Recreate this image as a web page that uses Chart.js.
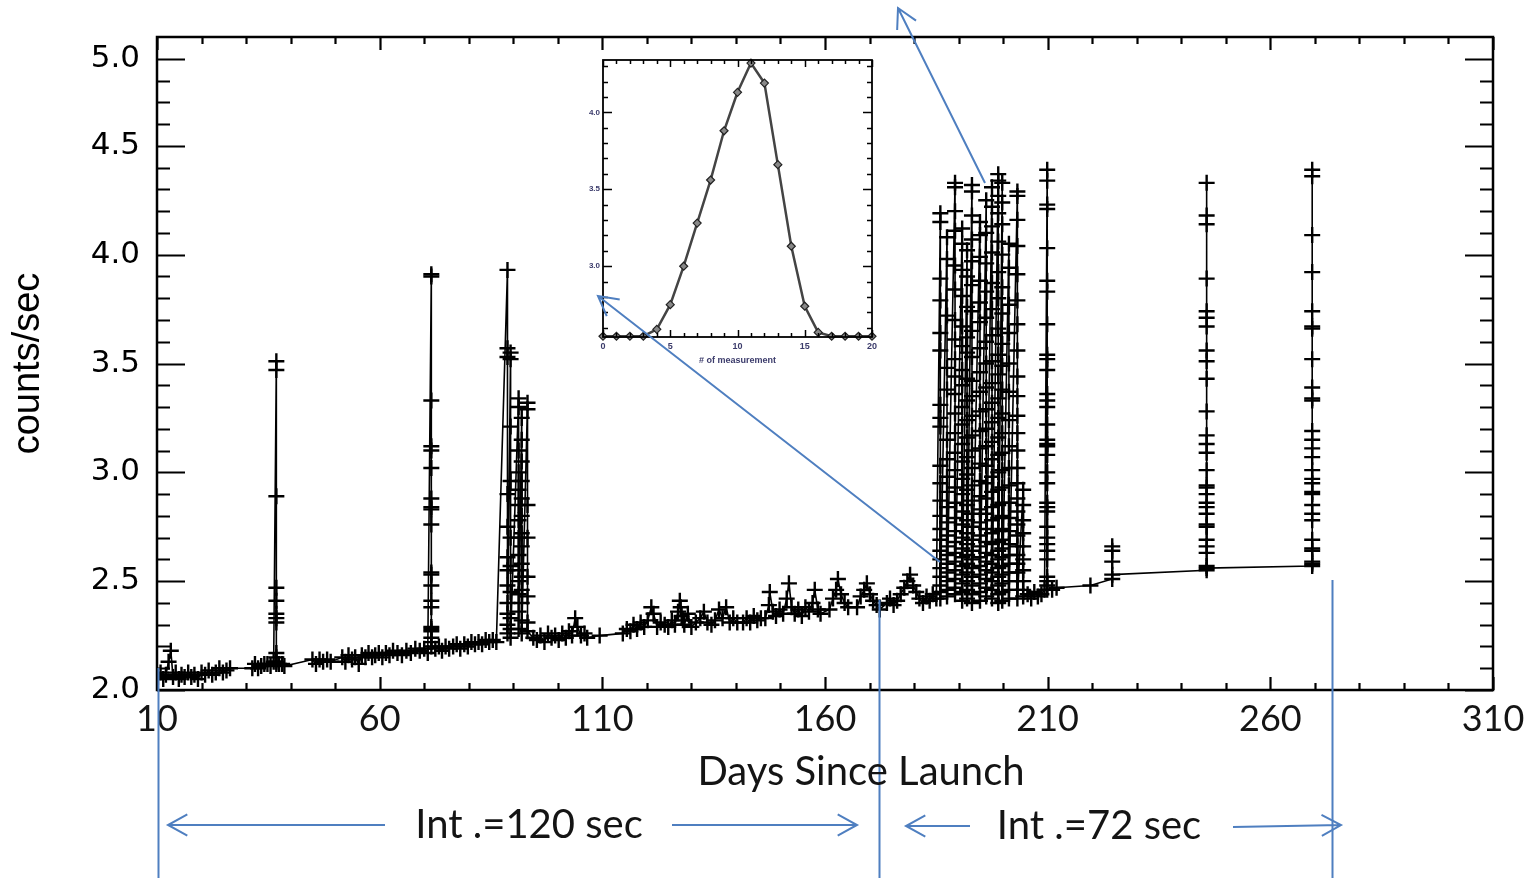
<!DOCTYPE html>
<html>
<head>
<meta charset="utf-8">
<script src="https://cdn.jsdelivr.net/npm/chart.js@4.4.1/dist/chart.umd.min.js"></script>
<style>
  html, body { margin: 0; padding: 0; background: #fff; }
  #wrap { position: relative; width: 1540px; height: 878px; overflow: hidden; }
  #main { position: absolute; left: 0; top: 0; width: 1540px; height: 878px; }
  #inset { position: absolute; left: 575px; top: 50px; width: 310px; height: 330px; }
  #notes { position: absolute; left: 0; top: 0; width: 1540px; height: 878px; pointer-events: none; }
</style>
</head>
<body>
<div id="wrap">
  <canvas id="main" width="1540" height="878"></canvas>
  <canvas id="inset" width="310" height="330"></canvas>
  <canvas id="notes" width="1540" height="878"></canvas>
</div>
<script>
// ---- main panel: background count rate vs day ----
const xTickValues = [10, 60, 110, 160, 210, 260, 310];
// the reference puts its "5.0" label one minor step below the frame top
const yTickPositions = [2.0, 2.5, 3.0, 3.5, 4.0, 4.5, 4.9];
const yTickLabels = ['2.0', '2.5', '3.0', '3.5', '4.0', '4.5', '5.0'];

// quiet-time measurements along the slow trend
const baseDays = [
  10.2, 10.8, 11.4, 12.0, 12.6, 13.1, 13.6, 14.2, 14.9, 15.5, 16.2, 17.0, 17.7, 18.4, 19.2, 20.0,
  20.8, 21.6, 22.4, 23.2, 24.0, 24.8, 25.6, 26.4,
  31.4, 32.0, 32.7, 33.4, 34.1, 34.8, 35.5, 36.2, 37.4, 38.1, 38.6,
  44.9, 45.7, 46.5, 47.3, 48.2, 49.0,
  51.6, 52.3, 53.0, 53.8, 54.5, 55.3, 56.0, 56.8, 57.5, 58.3, 59.0, 59.8, 60.6, 61.4, 62.2, 63.0,
  64.0, 65.0, 66.0, 67.0, 68.0, 69.0, 70.0, 70.8, 72.5, 73.3, 74.0, 74.8, 75.6, 76.5, 77.3, 78.1,
  79.0, 79.8, 80.6, 81.4, 82.2, 83.0, 83.8, 84.6, 85.4, 86.2,
  94.5, 95.3, 96.1, 97.0, 97.8, 98.6, 99.4, 100.2, 101.0, 101.8, 102.5, 103.2, 103.9, 104.4, 105.2,
  106.0, 106.6, 109.4,
  114.6, 115.5, 116.3, 117.0, 117.8, 118.6, 119.4, 120.2, 121.0, 121.5, 122.3, 123.1, 124.0, 124.8,
  125.6, 126.3, 127.0, 127.4, 127.6, 127.8, 128.1, 128.4, 129.2, 130.0, 131.0, 132.0, 132.8, 133.6,
  134.5, 135.3, 136.2, 137.0, 137.8, 138.6, 139.4, 140.3,
  141.6, 142.4, 143.2, 144.0, 144.8, 145.6, 146.6, 147.4, 147.6, 148.3, 149.0, 149.8, 150.6, 151.4,
  151.9, 152.5, 153.2, 154.0, 154.8, 155.6, 156.4, 157.2, 157.7, 158.4, 159.0,
  161.0, 161.8, 162.5, 162.9, 163.6, 164.4, 165.2,
  167.2, 168.0, 168.8, 169.4, 170.1, 170.8, 171.6, 172.3,
  173.9, 174.6, 175.4, 176.2, 177.0, 177.8, 178.5, 179.1, 179.8, 180.5, 181.2, 182.0, 182.8, 183.5,
  184.2, 185.0,
  205.5, 206.3, 207.0, 207.8, 208.6, 209.3, 211.0, 212.0, 219.6
];
const baseCounts = [
  2.06, 2.08, 2.05, 2.07, 2.13, 2.18, 2.06, 2.08, 2.05, 2.07, 2.06, 2.08, 2.06, 2.07, 2.05, 2.08,
  2.07, 2.09, 2.07, 2.08, 2.10, 2.08, 2.09, 2.10,
  2.10, 2.12, 2.10, 2.11, 2.12, 2.12, 2.11, 2.13, 2.12, 2.12, 2.11,
  2.14, 2.12, 2.14, 2.13, 2.14, 2.13,
  2.15, 2.13, 2.16, 2.14, 2.15, 2.12, 2.16, 2.15, 2.17, 2.15, 2.16, 2.17, 2.15, 2.17, 2.16, 2.18,
  2.17, 2.16, 2.18, 2.17, 2.19, 2.18, 2.19, 2.17, 2.19, 2.20, 2.18, 2.20, 2.19, 2.20, 2.21, 2.19,
  2.21, 2.20, 2.22, 2.21, 2.22, 2.21, 2.23, 2.22, 2.23, 2.22,
  2.24, 2.23, 2.25, 2.22, 2.26, 2.24, 2.25, 2.23, 2.26, 2.24, 2.27, 2.25, 2.33, 2.29, 2.25,
  2.26, 2.24, 2.25,
  2.26, 2.28, 2.27, 2.30, 2.28, 2.31, 2.29, 2.32, 2.38, 2.35, 2.29, 2.31, 2.30, 2.29,
  2.32, 2.30, 2.36, 2.41, 2.38, 2.34, 2.32, 2.30, 2.35, 2.29, 2.31, 2.33, 2.36, 2.31,
  2.30, 2.32, 2.37, 2.33, 2.38, 2.31, 2.33, 2.31,
  2.31, 2.33, 2.31, 2.34, 2.32, 2.33, 2.33, 2.39, 2.45, 2.36, 2.34, 2.37, 2.35, 2.42,
  2.49, 2.38, 2.35, 2.37, 2.34, 2.38, 2.36, 2.40, 2.46, 2.37, 2.35,
  2.37, 2.42, 2.46, 2.51, 2.44, 2.40, 2.38,
  2.38, 2.43, 2.46, 2.49, 2.44, 2.41, 2.39, 2.37,
  2.40, 2.42, 2.39, 2.41, 2.44, 2.47, 2.50, 2.53, 2.48, 2.45, 2.42, 2.40, 2.43, 2.41,
  2.44, 2.42,
  2.44, 2.42, 2.45, 2.43, 2.44, 2.46, 2.46, 2.47, 2.48
];

// isolated days with many repeated measurements (listed in the order they were taken)
const spikeDays = [36.8, 71.6, 88.7, 89.4, 91.2, 91.9, 93.2, 209.9, 224.5, 245.7, 269.4];
const spikeCounts = [
  [3.51, 3.47, 2.89, 2.47, 2.41, 2.35, 2.33, 2.31, 2.17, 2.15, 2.13, 2.12],
  [3.91, 3.90, 3.33, 3.12, 3.10, 3.02, 2.88, 2.84, 2.83, 2.76, 2.54, 2.53, 2.48, 2.41, 2.38, 2.29, 2.28, 2.27, 2.24, 2.22, 2.20],
  [3.93, 3.57, 3.53, 2.90, 2.75, 2.61, 2.55, 2.48, 2.40, 2.35, 2.30, 2.26],
  [3.55, 3.52, 3.21, 2.96, 2.70, 2.57, 2.45, 2.33, 2.28, 2.24],
  [3.34, 3.30, 3.10, 3.00, 2.92, 2.85, 2.78, 2.70, 2.62, 2.55, 2.50, 2.44, 2.36, 2.28],
  [3.25, 3.15, 3.05, 2.96, 2.88, 2.80, 2.72, 2.66, 2.58, 2.52, 2.46, 2.40, 2.32, 2.26],
  [3.32, 3.29, 2.85, 2.70, 2.52, 2.43, 2.31, 2.27],
  [4.39, 4.34, 4.23, 4.21, 4.03, 3.88, 3.83, 3.68, 3.54, 3.52, 3.47, 3.36, 3.33, 3.30, 3.22, 3.15, 3.13,
   3.12, 3.08, 3.00, 2.95, 2.86, 2.84, 2.82, 2.75, 2.70, 2.67, 2.64, 2.60, 2.52, 2.50, 2.48, 2.46],
  [2.51, 2.59, 2.66, 2.64, 2.53],
  [2.55, 2.57, 2.66, 2.75, 2.81, 2.86, 2.93, 3.01, 3.13, 3.28, 3.51, 3.67, 3.74, 4.14, 4.33,
   4.18, 3.89, 3.71, 3.56, 3.43, 3.17, 3.09, 2.94, 2.90, 2.84, 2.76, 2.69, 2.63, 2.56],
  [2.57, 2.59, 2.65, 2.78, 2.85, 2.91, 2.97, 3.07, 3.15, 3.33, 3.39, 3.66, 3.74, 4.09, 4.39,
   4.36, 3.92, 3.67, 3.52, 3.34, 3.19, 3.11, 3.01, 2.95, 2.90, 2.81, 2.69, 2.64, 2.58]
];

// the dense burst of days 186-205
const burstDays = [185.9, 187.4, 189.2, 190.8, 191.9, 193.0, 194.8, 196.2, 197.5, 198.9, 199.8, 201.3, 203.2, 204.5];
const burstCounts = [
  [4.19, 4.15, 3.89, 3.79, 3.64, 3.56, 3.31, 3.25, 3.21, 3.03, 2.95, 2.87, 2.80, 2.74, 2.69, 2.64, 2.60, 2.56, 2.52, 2.48, 2.45, 2.42],
  [4.08, 3.98, 3.72, 3.48, 3.38, 3.15, 3.06, 2.98, 2.91, 2.84, 2.77, 2.71, 2.66, 2.62, 2.58, 2.54, 2.50, 2.46, 2.43],
  [4.33, 4.31, 4.20, 4.11, 3.95, 3.84, 3.70, 3.61, 3.52, 3.44, 3.36, 3.27, 3.18, 3.09, 3.01, 2.93, 2.86, 2.79, 2.73, 2.68, 2.63, 2.59, 2.55, 2.51, 2.47, 2.44],
  [4.12, 4.05, 3.93, 3.81, 3.67, 3.58, 3.47, 3.40, 3.30, 3.22, 3.13, 3.05, 2.97, 2.90, 2.82, 2.76, 2.70, 2.65, 2.61, 2.57, 2.53, 2.49, 2.45, 2.41],
  [4.02, 3.90, 3.76, 3.62, 3.55, 3.43, 3.33, 3.24, 3.16, 3.07, 2.99, 2.92, 2.85, 2.78, 2.72, 2.67, 2.62, 2.58, 2.54, 2.50, 2.46, 2.42],
  [4.32, 4.29, 4.18, 4.07, 3.97, 3.86, 3.74, 3.65, 3.53, 3.42, 3.35, 3.26, 3.17, 3.10, 3.02, 2.94, 2.87, 2.81, 2.75, 2.69, 2.64, 2.60, 2.56, 2.52, 2.48, 2.44, 2.40],
  [4.15, 4.09, 3.99, 3.88, 3.78, 3.69, 3.57, 3.46, 3.37, 3.28, 3.19, 3.11, 3.04, 2.96, 2.89, 2.83, 2.77, 2.71, 2.66, 2.61, 2.57, 2.53, 2.49, 2.45, 2.41],
  [4.25, 4.10, 3.96, 3.83, 3.71, 3.60, 3.50, 3.39, 3.29, 3.20, 3.12, 3.03, 2.95, 2.88, 2.81, 2.74, 2.68, 2.63, 2.59, 2.55, 2.51, 2.47, 2.43],
  [4.31, 4.22, 4.13, 4.01, 3.87, 3.75, 3.63, 3.51, 3.41, 3.32, 3.23, 3.14, 3.06, 2.98, 2.91, 2.84, 2.78, 2.72, 2.67, 2.62, 2.58, 2.54, 2.50, 2.46, 2.42],
  [4.37, 4.34, 4.27, 4.19, 4.06, 3.92, 3.80, 3.66, 3.54, 3.45, 3.34, 3.25, 3.16, 3.08, 3.00, 2.92, 2.85, 2.79, 2.73, 2.68, 2.64, 2.60, 2.56, 2.52, 2.48, 2.44, 2.40],
  [4.33, 4.24, 4.14, 4.00, 3.85, 3.73, 3.59, 3.49, 3.38, 3.27, 3.18, 3.09, 3.01, 2.93, 2.86, 2.80, 2.74, 2.69, 2.65, 2.61, 2.57, 2.53, 2.49, 2.45, 2.41],
  [4.05, 3.94, 3.77, 3.64, 3.50, 3.37, 3.24, 3.12, 3.02, 2.94, 2.86, 2.79, 2.73, 2.67, 2.62, 2.58, 2.54, 2.50, 2.46, 2.42],
  [4.29, 4.27, 4.16, 4.04, 3.91, 3.79, 3.68, 3.56, 3.44, 3.35, 3.26, 3.18, 3.10, 3.02, 2.95, 2.88, 2.82, 2.76, 2.71, 2.66, 2.62, 2.58, 2.54, 2.50, 2.46, 2.42],
  [2.92, 2.85, 2.78, 2.72, 2.66, 2.60, 2.55, 2.50, 2.46, 2.43]
];

// ---- inset: counts over one pass ----
const insetMeasurement = [0, 1, 2, 3, 4, 5, 6, 7, 8, 9, 10, 11, 12, 13, 14, 15, 16, 17, 18, 19, 20];
const insetCounts = [2.545, 2.545, 2.545, 2.545, 2.59, 2.75, 3.00, 3.28, 3.56, 3.88, 4.13, 4.32, 4.19, 3.66, 3.13, 2.74, 2.57, 2.545, 2.545, 2.545, 2.545];
const insetXTicks = [0, 5, 10, 15, 20];
const insetYTicks = [3.0, 3.5, 4.0];

// ---- annotations ----
const intervalEdgeDays = [10.2, 172.1, 273.8];
const intervalEdgeTops = [668, 600, 580];
const intervalLabels = ['Int .=120 sec', 'Int .=72 sec'];

// join everything in time order, a spike day's values stay in listed order
let points = [];
baseDays.forEach((d, i) => points.push({ x: d, y: baseCounts[i] }));
spikeDays.forEach((d, i) => spikeCounts[i].forEach(v => points.push({ x: d, y: v })));
burstDays.forEach((d, i) => burstCounts[i].forEach(v => points.push({ x: d, y: v })));
points = points.map((p, i) => ({ p, i })).sort((a, b) => a.p.x - b.p.x || a.i - b.i).map(o => o.p);

const xMinor = [];
for (let d = 20; d < 310; d += 10) if ((d - 10) % 50 !== 0) xMinor.push(d);
const yMinor = [];
for (let i = 21; i <= 48; i++) if (i % 5 !== 0) yMinor.push(i / 10);
const insetXMinor = [];
for (let i = 1; i < 20; i++) if (i % 5 !== 0) insetXMinor.push(i);
const insetYMinor = [];
for (let i = 26; i <= 43; i++) if (i % 5 !== 0) insetYMinor.push(i / 10);

// frame with inward ticks on all four sides (IDL style)
const frameTicks = {
  id: 'frameTicks',
  afterDatasetsDraw(chart, args, o) {
    const { ctx, chartArea: a, scales: { x, y } } = chart;
    ctx.save();
    ctx.strokeStyle = '#000';
    ctx.lineWidth = o.tickWidth;
    ctx.beginPath();
    function xt(list, len) {
      list.forEach(v => {
        const px = Math.round(x.getPixelForValue(v)) + 0.5;
        ctx.moveTo(px, a.bottom); ctx.lineTo(px, a.bottom - len);
        ctx.moveTo(px, a.top); ctx.lineTo(px, a.top + len);
      });
    }
    function yt(list, len) {
      list.forEach(v => {
        const py = Math.round(y.getPixelForValue(v)) + 0.5;
        ctx.moveTo(a.left, py); ctx.lineTo(a.left + len, py);
        ctx.moveTo(a.right, py); ctx.lineTo(a.right - len, py);
      });
    }
    xt(o.xMajor, o.xMajorLen); xt(o.xMinor, o.xMinorLen);
    yt(o.yMajor, o.yMajorLen); yt(o.yMinor, o.yMinorLen);
    ctx.stroke();
    ctx.lineWidth = o.frameWidth;
    ctx.strokeRect(a.left, a.top, a.right - a.left, a.bottom - a.top);
    ctx.restore();
  }
};

function arrow(ctx, x1, y1, x2, y2) {
  const ang = Math.atan2(y2 - y1, x2 - x1);
  const h = 22, spread = 0.5;
  ctx.beginPath();
  ctx.moveTo(x1, y1); ctx.lineTo(x2, y2);
  ctx.moveTo(x2 - h * Math.cos(ang - spread), y2 - h * Math.sin(ang - spread));
  ctx.lineTo(x2, y2);
  ctx.lineTo(x2 - h * Math.cos(ang + spread), y2 - h * Math.sin(ang + spread));
  ctx.stroke();
}

// blue hand-drawn notes, put on a canvas above both charts
const notes = {
  id: 'notes',
  afterDraw(chart) {
    const c = document.getElementById('notes');
    const ctx = c.getContext('2d');
    const x = chart.scales.x;
    ctx.clearRect(0, 0, c.width, c.height);
    ctx.save();
    ctx.strokeStyle = '#4f7fc0';
    ctx.lineWidth = 2;
    intervalEdgeDays.forEach((d, i) => {
      const px = Math.round(x.getPixelForValue(d)) + 0.5;
      ctx.beginPath(); ctx.moveTo(px, intervalEdgeTops[i]); ctx.lineTo(px, 878); ctx.stroke();
    });
    arrow(ctx, 385, 825, 168, 825);
    arrow(ctx, 672, 825, 857, 825);
    arrow(ctx, 970, 826, 906, 826);
    arrow(ctx, 1233, 827, 1341, 825);
    arrow(ctx, 940, 562, 598, 296);
    arrow(ctx, 985, 183, 898, 8);

    ctx.fillStyle = '#141414';
    ctx.textAlign = 'center';
    ctx.textBaseline = 'middle';
    ctx.font = '40px Lato';
    ctx.fillText('Days Since Launch', 861, 772);
    ctx.fillText(intervalLabels[0], 529, 825);
    ctx.fillText(intervalLabels[1], 1099, 826);
    ctx.restore();
  }
};

new Chart(document.getElementById('main'), {
  type: 'scatter',
  data: {
    datasets: [{
      data: points,
      showLine: true,
      borderColor: '#000',
      borderWidth: 1.6,
      pointStyle: 'cross',
      pointRadius: 8,
      pointBorderWidth: 2.4,
      pointBorderColor: '#000',
      pointBackgroundColor: '#000'
    }]
  },
  options: {
    responsive: false,
    animation: false,
    events: [],
    layout: { padding: { left: 0, right: 47, top: 37, bottom: 0 } },
    plugins: {
      legend: { display: false },
      tooltip: { enabled: false },
      frameTicks: {
        xMajor: xTickValues, xMinor: xMinor, yMajor: yTickPositions, yMinor: yMinor,
        xMajorLen: 13, xMinorLen: 7, yMajorLen: 28, yMinorLen: 13,
        tickWidth: 2.2, frameWidth: 2.5
      }
    },
    scales: {
      x: {
        type: 'linear', min: 10, max: 310,
        grid: { display: false, drawTicks: false },
        border: { display: false },
        afterBuildTicks: s => { s.ticks = xTickValues.map(v => ({ value: v })); },
        afterFit: s => { s.height = 188; },
        ticks: { font: { family: 'Lato', size: 36 }, color: '#141414', padding: 8, maxRotation: 0, autoSkip: false }
      },
      y: {
        type: 'linear', min: 2, max: 5,
        grid: { display: false, drawTicks: false },
        border: { display: false },
        afterBuildTicks: s => { s.ticks = yTickPositions.map(v => ({ value: v })); },
        afterFit: s => { s.width = 157; },
        ticks: { callback: (v, i) => yTickLabels[i], font: { family: 'DejaVu Sans', size: 31 }, color: '#000', padding: 17, autoSkip: false },
        title: { display: true, text: 'counts/sec', font: { family: 'Liberation Sans', size: 38 }, color: '#000', padding: { top: 6, bottom: 0 } }
      }
    }
  },
  plugins: [frameTicks, notes]
});

new Chart(document.getElementById('inset'), {
  type: 'scatter',
  data: {
    datasets: [{
      data: insetMeasurement.map((m, i) => ({ x: m, y: insetCounts[i] })),
      showLine: true,
      borderColor: '#444',
      borderWidth: 2.5,
      pointStyle: 'rectRot',
      pointRadius: 4,
      pointBackgroundColor: '#888',
      pointBorderColor: '#222',
      pointBorderWidth: 1.2,
      clip: false
    }]
  },
  options: {
    responsive: false,
    animation: false,
    events: [],
    layout: { padding: { left: 0, right: 13, top: 10, bottom: 0 } },
    plugins: {
      legend: { display: false },
      tooltip: { enabled: false },
      frameTicks: {
        xMajor: insetXTicks, xMinor: insetXMinor, yMajor: insetYTicks, yMinor: insetYMinor,
        xMajorLen: 7, xMinorLen: 4, yMajorLen: 9, yMinorLen: 5,
        tickWidth: 1.5, frameWidth: 1.8
      }
    },
    scales: {
      x: {
        type: 'linear', min: 0, max: 20,
        grid: { display: false, drawTicks: false },
        border: { display: false },
        afterBuildTicks: s => { s.ticks = insetXTicks.map(v => ({ value: v })); },
        afterFit: s => { s.height = 43; },
        ticks: { font: { family: 'Liberation Sans', size: 9, weight: 'bold' }, color: '#3b3b6b', padding: 4, maxRotation: 0, autoSkip: false },
        title: { display: true, text: '# of measurement', font: { family: 'Liberation Sans', size: 9, weight: 'bold' }, color: '#3b3b6b', padding: { top: 0, bottom: 14 } }
      },
      y: {
        type: 'linear', min: 2.54, max: 4.34,
        grid: { display: false, drawTicks: false },
        border: { display: false },
        afterBuildTicks: s => { s.ticks = insetYTicks.map(v => ({ value: v })); },
        afterFit: s => { s.width = 28; },
        ticks: { callback: v => v.toFixed(1), font: { family: 'Liberation Sans', size: 8, weight: 'bold' }, color: '#3b3b6b', padding: 3, autoSkip: false }
      }
    }
  },
  plugins: [frameTicks]
});
</script>
</body>
</html>
